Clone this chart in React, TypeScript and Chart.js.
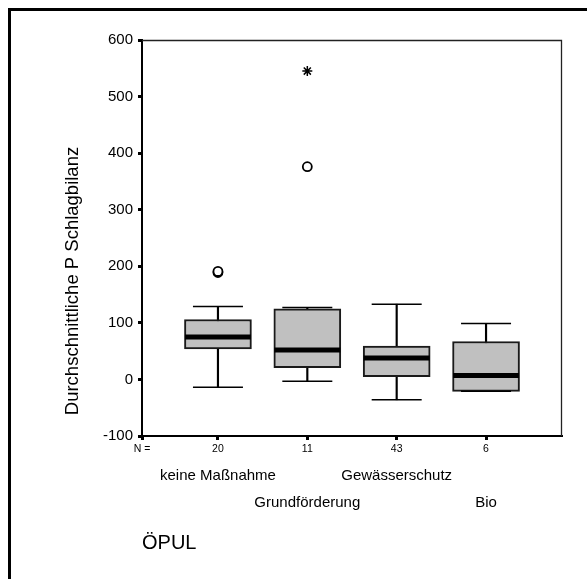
import React, { useEffect, useRef } from "react";
import { Chart, registerables } from "chart.js";

Chart.register(...registerables);

const categories = ["keine Maßnahme", "Grundförderung", "Gewässerschutz", "Bio"];
const counts = ["20", "11", "43", "6"];
const whiskerMin = [-14, -3, -36, -21];
const q1 = [54, 21, 5, -21];
const median = [75, 52, 38, 7];
const q3 = [106, 125, 59, 67];
const whiskerMax = [129, 127, 133, 99];
const outliers: [number, number][] = [
  [1, 189],
  [1, 191],
  [2, 376],
];
const extremes: [number, number][] = [[2, 545]];
const yTicks = [-100, 0, 100, 200, 300, 400, 500, 600];
const yTitle = "Durchschnittliche P Schlagbilanz";
const xTitle = "ÖPUL";
const nLabel = "N =";

const FONT = "'Liberation Sans', Arial, sans-serif";

const decorPlugin = {
  id: "decor",
  beforeDraw(chart: any) {
    const ctx = chart.ctx;
    ctx.save();
    ctx.fillStyle = "#ffffff";
    ctx.fillRect(0, 0, chart.width, chart.height);
    ctx.strokeStyle = "#000";
    ctx.lineWidth = 3;
    ctx.beginPath();
    ctx.moveTo(9.5, chart.height);
    ctx.lineTo(9.5, 9.5);
    ctx.lineTo(chart.width, 9.5);
    ctx.stroke();
    ctx.restore();
  },
  afterDatasetsDraw(chart: any) {
    const { ctx, chartArea } = chart;
    ctx.save();
    ctx.strokeStyle = "#222";
    ctx.lineWidth = 1.3;
    ctx.beginPath();
    ctx.moveTo(chartArea.left, chartArea.top + 0.5);
    ctx.lineTo(chartArea.right - 0.5, chartArea.top + 0.5);
    ctx.lineTo(chartArea.right - 0.5, chartArea.bottom);
    ctx.stroke();
    // y title
    const yScale = chart.scales.y;
    const midY = yScale.getPixelForValue(174);
    ctx.translate(73, midY);
    ctx.rotate(-Math.PI / 2);
    ctx.fillStyle = "#000";
    ctx.font = `18.5px ${FONT}`;
    ctx.textAlign = "center";
    ctx.textBaseline = "middle";
    ctx.fillText(yTitle, 0, 0);
    ctx.restore();
  },
};

const zeroPad = (scale: any, h: number) => {
  scale.height = h;
  scale.paddingLeft = 0;
  scale.paddingRight = 0;
};

export default function App() {
  const ref = useRef<HTMLCanvasElement | null>(null);
  useEffect(() => {
    if (!ref.current) return;
    const xs = categories.map((_, i) => i + 1);
    const chart = new Chart(ref.current, {
      type: "bar",
      data: {
        datasets: [
          {
            type: "scatter",
            label: "medians",
            data: xs.map((x, i) => ({ x, y: median[i] })),
            pointStyle: "line",
            radius: 33,
            hoverRadius: 33,
            borderWidth: 5,
            borderColor: "#000",
            backgroundColor: "#000",
            order: 0,
          } as any,
          {
            type: "scatter",
            label: "caps",
            data: [
              ...xs.map((x, i) => ({ x, y: whiskerMax[i] })),
              ...xs.map((x, i) => ({ x, y: whiskerMin[i] })),
            ],
            pointStyle: "line",
            radius: 25,
            hoverRadius: 25,
            borderWidth: 1.5,
            borderColor: "#000",
            order: 1,
          } as any,
          {
            type: "scatter",
            label: "outliers",
            data: outliers.map(([x, y]) => ({ x, y })),
            pointStyle: "circle",
            radius: 4.5,
            borderWidth: 1.8,
            borderColor: "#000",
            backgroundColor: "#fff",
            order: 0,
          } as any,
          {
            type: "scatter",
            label: "extremes",
            data: extremes.map(([x, y]) => ({ x, y })),
            pointStyle: "star",
            radius: 5,
            borderWidth: 1.5,
            borderColor: "#000",
            order: 0,
          } as any,
          {
            label: "boxes",
            data: xs.map((x, i) => ({ x, y: [q1[i], q3[i]] })),
            backgroundColor: "#c0c0c0",
            borderColor: "#1a1a1a",
            borderWidth: 2,
            borderSkipped: false,
            barThickness: 67,
            grouped: false,
            order: 2,
          } as any,
          {
            label: "whiskers",
            data: xs.map((x, i) => ({ x, y: [whiskerMin[i], whiskerMax[i]] })),
            backgroundColor: "#000",
            borderWidth: 0,
            barThickness: 1.5,
            grouped: false,
            order: 3,
          } as any,
        ],
      },
      options: {
        animation: false,
        responsive: false,
        events: [],
        layout: { autoPadding: false, padding: { left: 0, top: 40, right: 25, bottom: 0 } },
        plugins: { legend: { display: false }, tooltip: { enabled: false } },
        scales: {
          x: {
            type: "linear",
            position: "bottom",
            offset: false,
            min: 0.15,
            max: 4.85,
            afterBuildTicks: (scale: any) => {
              scale.ticks = [{ value: 0.15 }, ...xs.map((v) => ({ value: v }))];
            },
            afterFit: (scale: any) => zeroPad(scale, 24),
            ticks: {
              autoSkip: false,
              maxRotation: 0,
              padding: 3,
              color: "#000",
              font: { family: FONT, size: 10.5 },
              callback: (v: any) => {
                const i = xs.indexOf(Number(v));
                return i >= 0 ? counts[i] : nLabel;
              },
            },
            grid: {
              offset: false,
              drawOnChartArea: false,
              drawTicks: true,
              tickLength: 4,
              tickWidth: 3,
              tickColor: "#000",
            },
            border: { display: true, color: "#000", width: 2 },
          } as any,
          x2: {
            type: "linear",
            position: "bottom",
            offset: false,
            min: 0.15,
            max: 4.85,
            afterBuildTicks: (scale: any) => {
              scale.ticks = xs.map((v) => ({ value: v }));
            },
            afterFit: (scale: any) => zeroPad(scale, 119),
            ticks: {
              autoSkip: false,
              maxRotation: 0,
              padding: 3,
              color: "#000",
              font: { family: FONT, size: 15, lineHeight: 1.75 },
              callback: (v: any) => {
                const i = xs.indexOf(Number(v));
                if (i < 0) return "";
                return i % 2 === 0 ? [categories[i]] : ["", categories[i]];
              },
            },
            grid: { display: false, drawTicks: false, offset: false },
            border: { display: false },
            title: {
              display: true,
              text: xTitle,
              align: "start",
              color: "#000",
              font: { family: FONT, size: 20 },
              padding: { top: 0, bottom: 24 },
            },
          } as any,
          y: {
            type: "linear",
            min: -100,
            max: 600,
            afterBuildTicks: (scale: any) => {
              scale.ticks = yTicks.map((v) => ({ value: v }));
            },
            afterFit: (scale: any) => {
              scale.width = 142;
              scale.paddingTop = 0;
              scale.paddingBottom = 0;
            },
            ticks: {
              padding: 5,
              color: "#000",
              font: { family: FONT, size: 15 },
            },
            grid: {
              drawOnChartArea: false,
              drawTicks: true,
              tickLength: 4,
              tickWidth: 3,
              tickColor: "#000",
            },
            border: { display: true, color: "#000", width: 2 },
          } as any,
        },
      },
      plugins: [decorPlugin],
    });
    return () => chart.destroy();
  }, []);
  return (
    <div style={{ position: "absolute", left: 0, top: 0, width: 587, height: 579 }}>
      <canvas ref={ref} width={587} height={579} style={{ display: "block" }} />
    </div>
  );
}
